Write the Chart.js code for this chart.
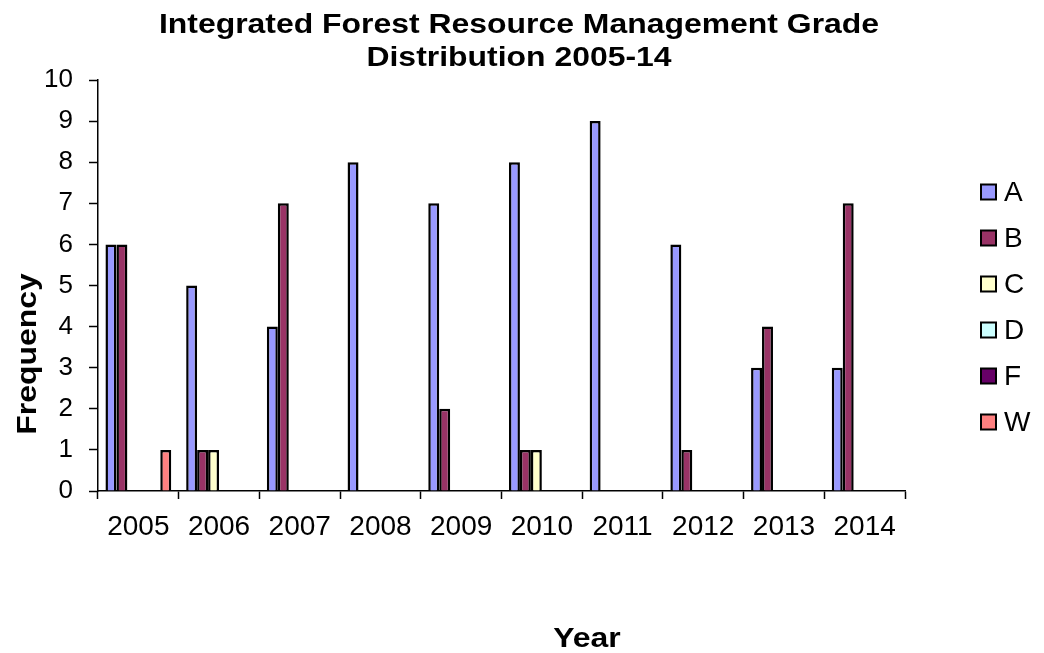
<!DOCTYPE html>
<html>
<head>
<meta charset="utf-8">
<script src="https://cdn.jsdelivr.net/npm/chart.js@4"></script>
<style>
  html, body { margin: 0; padding: 0; background: #fff; }
  #wrap { width: 1044px; height: 653px; position: relative; }
</style>
</head>
<body>
<div id="wrap"><canvas id="gradeChart"></canvas></div>
<script>
// Dados do gráfico
const years = ['2005', '2006', '2007', '2008', '2009', '2010', '2011', '2012', '2013', '2014'];
const gradeA = [6, 5, 4, 8, 7, 8, 9, 6, 3, 3];
const gradeB = [6, 1, 7, 0, 2, 1, 0, 1, 4, 7];
const gradeC = [0, 1, 0, 0, 0, 1, 0, 0, 0, 0];
const gradeD = [0, 0, 0, 0, 0, 0, 0, 0, 0, 0];
const gradeF = [0, 0, 0, 0, 0, 0, 0, 0, 0, 0];
const gradeW = [1, 0, 0, 0, 0, 0, 0, 0, 0, 0];
const yTicks = [0, 1, 2, 3, 4, 5, 6, 7, 8, 9, 10];

const seriesNames = ['A', 'B', 'C', 'D', 'F', 'W'];
const seriesData = [gradeA, gradeB, gradeC, gradeD, gradeF, gradeW];
const seriesColors = ['#9999FF', '#993366', '#FFFFCC', '#CCFFFF', '#660066', '#FF8080'];

const FONT = '"Liberation Sans", Arial, sans-serif';

// texto um pouco esticado na horizontal, como no Excel
function wideText(ctx, text, x, y, rot) {
    ctx.save();
    ctx.translate(x, y);
    if (rot) ctx.rotate(rot);
    ctx.scale(1.14, 1);
    ctx.fillText(text, 0, 0);
    ctx.restore();
}

// Títulos, eixos e legenda desenhados à mão (layout tipo Excel)
const decorPlugin = {
    id: 'decor',
    afterDraw(chart) {
        const ctx = chart.ctx;
        ctx.save();
        ctx.fillStyle = '#000';
        ctx.textAlign = 'center';
        ctx.textBaseline = 'middle';
        ctx.font = 'bold 28px ' + FONT;
        wideText(ctx, 'Integrated Forest Resource Management Grade', 519, 25);
        wideText(ctx, 'Distribution 2005-14', 519, 58);
        wideText(ctx, 'Year', 587, 639);
        wideText(ctx, 'Frequency', 28, 354, -Math.PI / 2);

        // legenda
        ctx.textAlign = 'left';
        ctx.font = '28px ' + FONT;
        seriesNames.forEach((name, i) => {
            const y = 192 + i * 46;
            ctx.fillStyle = seriesColors[i];
            ctx.fillRect(981, y - 7.5, 15, 15);
            ctx.strokeStyle = '#000';
            ctx.lineWidth = 2;
            ctx.strokeRect(981, y - 7.5, 15, 15);
            ctx.fillStyle = '#000';
            ctx.fillText(name, 1004, y + 1);
        });
        ctx.restore();
    }
};

const ctx = document.getElementById('gradeChart').getContext('2d');
new Chart(ctx, {
    type: 'bar',
    data: {
        labels: years,
        datasets: seriesNames.map((name, i) => ({
            label: name,
            data: seriesData[i],
            backgroundColor: seriesColors[i],
            borderColor: '#000',
            borderWidth: 2.5,
            borderSkipped: 'start',
            categoryPercentage: 0.815,
            barPercentage: 1.0
        }))
    },
    options: {
        responsive: true,
        maintainAspectRatio: false,
        animation: false,
        devicePixelRatio: 1,
        layout: { padding: { top: 80, right: 139, bottom: 0, left: 0 } },
        plugins: {
            legend: { display: false },
            title: { display: false },
            tooltip: { enabled: false }
        },
        scales: {
            x: {
                offset: true,
                grid: {
                    offset: true,
                    drawOnChartArea: false,
                    color: '#000',
                    tickLength: 8,
                    tickWidth: 1.5
                },
                border: { color: '#000', width: 1.5 },
                ticks: {
                    color: '#000',
                    font: { family: FONT, size: 28 },
                    padding: 11,
                    maxRotation: 0
                },
                afterFit(scale) { scale.height = 162; }
            },
            y: {
                min: 0,
                max: 10,
                afterBuildTicks(scale) { scale.ticks = yTicks.map(v => ({ value: v })); },
                grid: {
                    drawOnChartArea: false,
                    color: '#000',
                    tickLength: 9,
                    tickWidth: 1.5
                },
                border: { color: '#000', width: 1.5 },
                ticks: {
                    color: '#000',
                    font: { family: FONT, size: 26 },
                    padding: 16
                },
                afterFit(scale) { scale.width = 98; }
            }
        }
    },
    plugins: [decorPlugin]
});
</script>
</body>
</html>
